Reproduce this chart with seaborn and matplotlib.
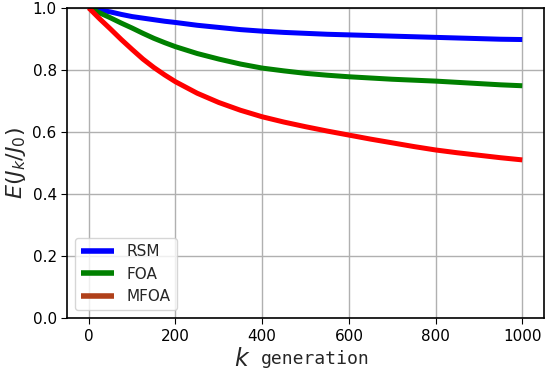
import numpy as np
import pandas as pd
import seaborn as sns
import matplotlib.pyplot as plt

# generation index and estimated E(J_k/J_0) for each method
k = [0, 25, 50, 75, 100, 125, 150, 175, 200, 250, 300, 350, 400, 450, 500,
     550, 600, 650, 700, 750, 800, 850, 900, 950, 1000]
rsm = [1.0, 0.993, 0.987, 0.979, 0.972, 0.967, 0.962, 0.957, 0.953, 0.944,
       0.937, 0.930, 0.925, 0.921, 0.918, 0.915, 0.913, 0.911, 0.909, 0.907,
       0.905, 0.903, 0.901, 0.899, 0.898]
foa = [1.0, 0.984, 0.968, 0.951, 0.935, 0.918, 0.902, 0.888, 0.875, 0.853,
       0.835, 0.819, 0.806, 0.797, 0.789, 0.783, 0.778, 0.774, 0.770, 0.767,
       0.764, 0.760, 0.756, 0.752, 0.749]
mfoa = [1.0, 0.965, 0.932, 0.898, 0.866, 0.835, 0.808, 0.784, 0.762, 0.725,
        0.695, 0.670, 0.649, 0.632, 0.617, 0.603, 0.590, 0.577, 0.565, 0.553,
        0.542, 0.533, 0.525, 0.517, 0.510]

methods = ["RSM", "FOA", "MFOA"]
colors = ["blue", "green", "red"]

df = pd.DataFrame({
    "k": k * 3,
    "value": rsm + foa + mfoa,
    "method": [m for m in methods for _ in k],
})

sns.set_style("ticks")
plt.figure(figsize=(5.5, 3.76), dpi=100)
ax = sns.lineplot(data=df, x="k", y="value", hue="method", palette=colors,
                  linewidth=3.6, legend=True)
for ln in ax.get_lines():
    ln.set_solid_capstyle("butt")
    ln.set_solid_joinstyle("round")

ax.set_ylim(0, 1.0)
ax.set_xlim(-50, 1050)
ax.set_xticks([0, 200, 400, 600, 800, 1000])
ax.set_yticks([0.0, 0.2, 0.4, 0.6, 0.8, 1.0])
ax.grid(True, color="#b0b0b0", linewidth=1.0)
for s in ax.spines.values():
    s.set_color("black")
    s.set_linewidth(1.2)
ax.tick_params(labelsize=11, colors="black", length=4)

ax.set_ylabel(r"$E(J_k/J_0)$", fontsize=16, labelpad=3)
ax.set_xlabel("")
ax.text(0.351, -0.092, r"$k$", transform=ax.transAxes, fontsize=17,
        ha="left", va="top")
ax.text(0.407, -0.102, "generation", transform=ax.transAxes, fontsize=13,
        family="DejaVu Sans Mono", ha="left", va="top")

leg = ax.legend(loc="lower left", fontsize=11, handlelength=2.2)
for line, c in zip(leg.get_lines(), ["blue", "green", "#b0401a"]):
    line.set_color(c)
    line.set_linewidth(4)

plt.subplots_adjust(left=0.122, right=0.989, top=0.979, bottom=0.154)
plt.savefig("out.png", dpi=100)
plt.close()
